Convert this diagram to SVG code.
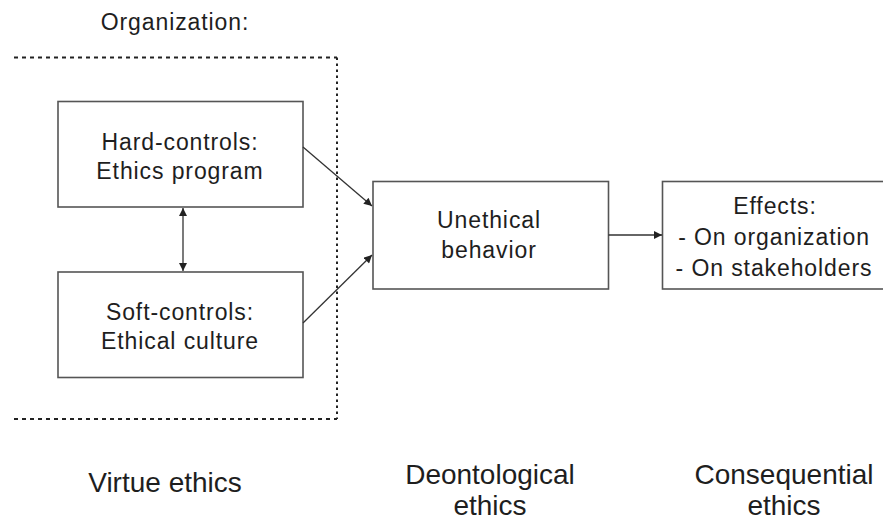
<svg xmlns="http://www.w3.org/2000/svg" width="883" height="520" viewBox="0 0 883 520">
  <style>
    text { font-family: "Liberation Sans", Arial, sans-serif; fill: #1e1e1e; text-anchor: middle; }
    .box { fill: #ffffff; stroke: #555555; stroke-width: 1.6; }
    .lbl { font-size: 23px; letter-spacing: 0.9px; }
    .big { font-size: 28px; }
    .org { fill: none; stroke: #222222; stroke-width: 2; }
    .edge { fill: none; stroke: #333333; stroke-width: 1.3; }
  </style>
  <defs>
    <marker id="head" viewBox="0 0 10 10" refX="10" refY="5" markerWidth="9" markerHeight="8" markerUnits="userSpaceOnUse" orient="auto-start-reverse">
      <path d="M0,0 L10,5 L0,10 Z" fill="#222222"/>
    </marker>
  </defs>

  <!-- organisation boundary -->
  <g id="organization">
    <text class="lbl" x="175" y="30">Organization:</text>
    <path class="org" d="M14,57.5 H337" stroke-dasharray="4 4"/>
    <path class="org" d="M14,419 H337" stroke-dasharray="4 4"/>
    <path class="org" d="M337,57.5 V419" stroke-dasharray="2.5 3.5"/>
  </g>

  <g id="hard-controls">
    <rect class="box" x="58" y="101.5" width="245" height="105.5"/>
    <text class="lbl" x="180" y="150">Hard-controls:</text>
    <text class="lbl" x="180" y="179">Ethics program</text>
  </g>

  <g id="soft-controls">
    <rect class="box" x="58" y="272" width="245" height="105.5"/>
    <text class="lbl" x="180" y="320">Soft-controls:</text>
    <text class="lbl" x="180" y="349">Ethical culture</text>
  </g>

  <g id="unethical-behavior">
    <rect class="box" x="373" y="181.5" width="235.5" height="107.5"/>
    <text class="lbl" x="489" y="228">Unethical</text>
    <text class="lbl" x="489" y="258">behavior</text>
  </g>

  <g id="effects">
    <rect class="box" x="662.5" y="181.5" width="240" height="107.5"/>
    <text class="lbl" x="775" y="214">Effects:</text>
    <text class="lbl" x="774" y="245">- On organization</text>
    <text class="lbl" x="774" y="276">- On stakeholders</text>
  </g>

  <g id="connectors">
    <line class="edge" x1="183" y1="208" x2="183" y2="271" marker-start="url(#head)" marker-end="url(#head)"/>
    <line class="edge" x1="303" y1="147" x2="372" y2="206" marker-end="url(#head)"/>
    <line class="edge" x1="303" y1="323" x2="372" y2="255" marker-end="url(#head)"/>
    <line class="edge" x1="608.5" y1="235" x2="662" y2="235" marker-end="url(#head)"/>
  </g>

  <!-- ethical theory captions -->
  <g id="virtue-ethics">
    <text class="big" x="165" y="492">Virtue ethics</text>
  </g>
  <g id="deontological-ethics">
    <text class="big" x="490" y="484">Deontological</text>
    <text class="big" x="490" y="515">ethics</text>
  </g>
  <g id="consequential-ethics">
    <text class="big" x="784" y="484">Consequential</text>
    <text class="big" x="784" y="515">ethics</text>
  </g>
</svg>
